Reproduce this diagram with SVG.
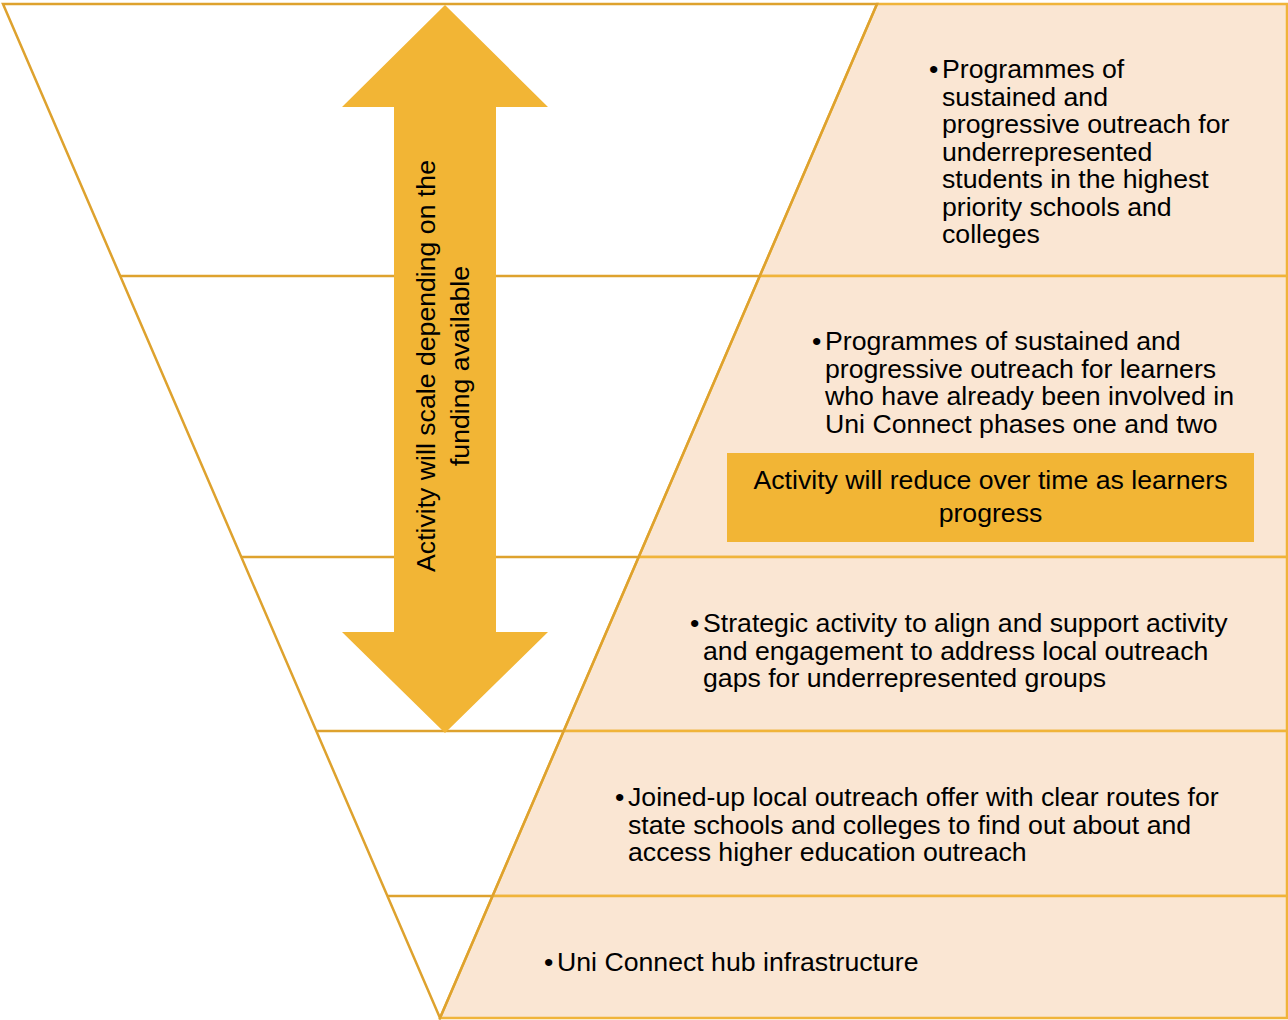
<svg xmlns="http://www.w3.org/2000/svg" width="1288" height="1020" viewBox="0 0 1288 1020">
<style>
.peach{fill:#FAE6D3;stroke:#F0B43A;stroke-width:2.5}
.tri{fill:none;stroke:#DEA22E;stroke-width:2.5}
.t{font-family:"Liberation Sans",Arial,sans-serif;font-size:26.67px;fill:#000}
.c{text-anchor:middle}
.arrow{fill:#F2B535}
</style>
<rect x="0" y="0" width="1288" height="1020" fill="#FFFFFF"/>
<g id="layers">
<polygon class="peach" points="877,4 1287,4 1287,276 759.8,276"/>
<polygon class="peach" points="759.8,276 1287,276 1287,557 638.7,557"/>
<polygon class="peach" points="638.7,557 1287,557 1287,731 563.7,731"/>
<polygon class="peach" points="563.7,731 1287,731 1287,896 492.5,896"/>
<polygon class="peach" points="492.5,896 1287,896 1287,1018 440,1018"/>
</g>
<g id="triangle">
<polygon class="tri" points="3,4 877,4 440,1018"/>
<line class="tri" x1="120.2" y1="276" x2="759.8" y2="276"/>
<line class="tri" x1="241.3" y1="557" x2="638.7" y2="557"/>
<line class="tri" x1="316.3" y1="731" x2="563.7" y2="731"/>
<line class="tri" x1="387.5" y1="896" x2="492.5" y2="896"/>
</g>
<g id="scale-arrow">
<polygon class="arrow" points="445,5 548,107 496,107 496,632 548,632 445,733 342,632 394,632 394,107 342,107"/>
<text class="t c" transform="translate(435,366) rotate(-90)" x="0" y="0">Activity will scale depending on the</text>
<text class="t c" transform="translate(469,366) rotate(-90)" x="0" y="0">funding available</text>
</g>
<g id="layer1-text">
<text class="t" x="929" y="78">•</text>
<text class="t" x="942" y="78">Programmes of</text>
<text class="t" x="942" y="105.5">sustained and</text>
<text class="t" x="942" y="133">progressive outreach for</text>
<text class="t" x="942" y="160.5">underrepresented</text>
<text class="t" x="942" y="188">students in the highest</text>
<text class="t" x="942" y="215.5">priority schools and</text>
<text class="t" x="942" y="243">colleges</text>
</g>
<g id="layer2-text">
<text class="t" x="812" y="350">•</text>
<text class="t" x="825" y="350">Programmes of sustained and</text>
<text class="t" x="825" y="377.5">progressive outreach for learners</text>
<text class="t" x="825" y="405">who have already been involved in</text>
<text class="t" x="825" y="432.5">Uni Connect phases one and two</text>
</g>
<g id="reduce-box">
<rect x="727" y="453" width="527" height="89" fill="#F2B535"/>
<text class="t c" x="990.5" y="489">Activity will reduce over time as learners</text>
<text class="t c" x="990.5" y="522">progress</text>
</g>
<g id="layer3-text">
<text class="t" x="690" y="632">•</text>
<text class="t" x="703" y="632">Strategic activity to align and support activity</text>
<text class="t" x="703" y="659.5">and engagement to address local outreach</text>
<text class="t" x="703" y="687">gaps for underrepresented groups</text>
</g>
<g id="layer4-text">
<text class="t" x="615" y="806">•</text>
<text class="t" x="628" y="806">Joined-up local outreach offer with clear routes for</text>
<text class="t" x="628" y="833.5">state schools and colleges to find out about and</text>
<text class="t" x="628" y="861">access higher education outreach</text>
</g>
<g id="layer5-text">
<text class="t" x="544" y="971">•</text>
<text class="t" x="557" y="971">Uni Connect hub infrastructure</text>
</g>
</svg>
